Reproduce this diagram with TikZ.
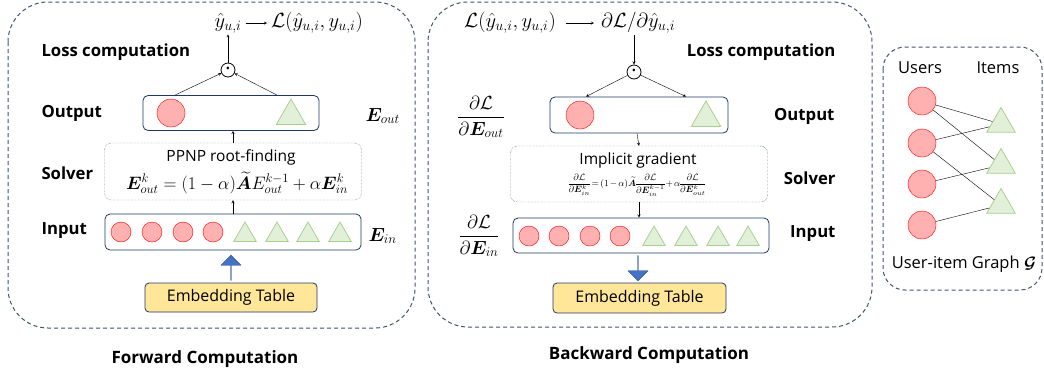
\RequirePackage{fix-cm}
\documentclass[tikz,border=0pt]{standalone}
\usepackage{amsmath,bm}
\usepackage{fontspec}
\setmainfont{Open Sans}
\usetikzlibrary{shapes.geometric,shapes.arrows}

\definecolor{navy}{HTML}{203864}
\definecolor{framegray}{HTML}{44546A}
\definecolor{userred}{HTML}{FFB0B0}
\definecolor{itemgreen}{HTML}{E2F0D9}
\definecolor{itemedge}{HTML}{A9D18E}
\definecolor{tablefill}{HTML}{FFE699}
\definecolor{arrowblue}{HTML}{4472C4}
\definecolor{arrowedge}{HTML}{2F528F}

\newcommand{\fsz}[1]{\fontsize{#1}{#1}\selectfont}

\tikzset{
  user/.style={circle, draw=red, fill=userred, inner sep=0pt, minimum size=#1},
  item/.style={regular polygon, regular polygon sides=3, draw=itemedge, fill=itemgreen,
    thick, inner sep=0pt, minimum size=#1},
  layer/.style={draw=navy, thick, rounded corners=5},
  solverbox/.style={draw=navy, densely dotted, rounded corners=7},
  tablebox/.style={draw=navy, fill=tablefill, thick, rounded corners=4, font=\fsz{16}},
  bigarrow/.style={single arrow, draw=arrowedge, fill=arrowblue, minimum height=25pt,
    minimum width=20pt, single arrow head extend=4pt, inner sep=0pt},
  odot/.style={circle, draw, thick, minimum size=14pt, inner sep=0pt, font=\fsz{11}},
  mathtext/.style={font=\fsz{20.5}, inner sep=1pt},
  rowlabel/.style={font=\bfseries\fsz{16.7}},
  title/.style={font=\bfseries\fsz{17}},
  graphtext/.style={font=\fsz{16.5}},
  panel/.style={draw=framegray, dash pattern=on 4pt off 3pt, line width=1pt},
}

\begin{document}
\begin{tikzpicture}[x=1pt, y=-1pt, >=stealth]
  \useasboundingbox (0,0) rectangle (1044,376);

  % frames
  \draw[panel, rounded corners=40] (8,2) rectangle (415,328);
  \draw[panel, rounded corners=40] (428,2) rectangle (872,327);
  \draw[panel, rounded corners=22] (883,47) rectangle (1042,290);

  % forward computation
  \node[layer, minimum width=176pt, minimum height=35pt] (fout) at (231,113) {};
  \node[solverbox, minimum width=257pt, minimum height=57pt] (fsolver) at (233,171.5) {};
  \node[layer, minimum width=256pt, minimum height=36pt] (fin) at (233,232) {};
  \node[tablebox, minimum width=172pt, minimum height=29pt] (ftable) at (231,297.5) {Embedding Table};
  \node[bigarrow, rotate=90] (fup) at (231,268) {};

  \node[user=28pt] (fcirc) at (171,113) {};
  \node[item=34pt] (ftri) at (291,116) {};
  \foreach \x [count=\i] in {121,152,183,213}
    \node[user=20pt] (fu\i) at (\x,232) {};
  \foreach \x [count=\i] in {245,277,308,340}
    \node[item=26pt] (fi\i) at (\x,235) {};

  \node[font=\fsz{15.5}] (fppnp) at (231,157) {PPNP root-finding};
  \node[font=\fsz{18}] (fformula) at (237,183)
    {$\bm{E}_{out}^{k}=(1-\alpha)\widetilde{\bm{A}}E_{out}^{k-1}+\alpha\bm{E}_{in}^{k}$};

  \node[odot] (fdot) at (228,70) {\textbullet};
  \node[mathtext] (fyhat) at (228,23) {$\hat{y}_{u,i}$};
  \node[mathtext, anchor=west] (floss) at (270,23) {$\mathcal{L}(\hat{y}_{u,i},y_{u,i})$};

  \draw[->, shorten <=3pt, shorten >=3pt] (fyhat.east) -- (floss.west);
  \draw[->] (fdot) -- (fyhat);
  \draw[->] (fout.north -| fcirc) ++(4,0) -- (fdot);
  \draw[->] (fout.north -| ftri) ++(-14,0) -- (fdot);
  \draw[->] (fsolver.north) -- (fsolver.north |- fout.south);
  \draw[->] (fin.north) -- (fin.north |- fsolver.south);

  \node[rowlabel, anchor=west] (flosslab) at (38,52) {Loss computation};
  \node[rowlabel, anchor=west] (foutlab) at (38,113) {Output};
  \node[rowlabel, anchor=west] (fsolvlab) at (38,173) {Solver};
  \node[rowlabel, anchor=west] (finlab) at (38,231) {Input};
  \node[font=\fsz{19}, anchor=west] (fEout) at (362,116) {$\bm{E}_{out}$};
  \node[font=\fsz{19}, anchor=west] (fEin) at (365,236) {$\bm{E}_{in}$};
  \node[title] (ftitle) at (205,359) {Forward Computation};

  % backward computation
  \node[layer, minimum width=178pt, minimum height=36pt] (bout) at (639,115) {};
  \node[solverbox, minimum width=257pt, minimum height=56pt] (bsolver) at (639,174) {};
  \node[layer, minimum width=256pt, minimum height=35pt] (bin) at (641,235.5) {};
  \node[tablebox, minimum width=173pt, minimum height=30pt] (btable) at (639.5,298) {Embedding Table};
  \node[bigarrow, rotate=-90] (bdown) at (638,268) {};

  \node[user=28pt] (bcirc) at (580,115) {};
  \node[item=34pt] (btri) at (706,118) {};
  \foreach \x [count=\i] in {529,559,590,620}
    \node[user=20pt] (bu\i) at (\x,236) {};
  \foreach \x [count=\i] in {654,686,718,748}
    \node[item=26pt] (bi\i) at (\x,239) {};

  \node[font=\fsz{15.5}] (bimpl) at (638,160) {Implicit gradient};
  \node[font=\fsz{9.2}] (bformula) at (637,185)
    {\nulldelimiterspace=0pt \medmuskip=2mu \thickmuskip=3mu
     $\dfrac{\partial\mathcal{L}}{\partial\bm{E}_{in}^{k}}=(1-\alpha)\widetilde{\bm{A}}\dfrac{\partial\mathcal{L}}{\partial\bm{E}_{in}^{k-1}}+\alpha\dfrac{\partial\mathcal{L}}{\partial\bm{E}_{out}^{k}}$};

  \node[odot] (bdot) at (634,72) {\textbullet};
  \node[mathtext, anchor=west] (bloss) at (463,23) {$\mathcal{L}(\hat{y}_{u,i},y_{u,i})$};
  \node[mathtext, anchor=west] (bgrad) at (600,23) {$\partial\mathcal{L}/\partial\hat{y}_{u,i}$};

  \draw[->, shorten <=9pt, shorten >=6pt] (bloss.east) -- (bgrad.west);
  \draw[->] (bdot |- bgrad.south) -- (bdot);
  \draw[->] (bdot) -- ([xshift=6pt]bout.north -| bcirc);
  \draw[->] (bdot) -- ([xshift=-20pt]bout.north -| btri);
  \draw[->] (bout.south -| bdot) ++(3,0) -- (bsolver.north);
  \draw[->] (bsolver.south) -- (bsolver.south |- bin.north);

  \node[rowlabel, anchor=east] (blosslab) at (839,52) {Loss computation};
  \node[rowlabel, anchor=east] (boutlab) at (838,116) {Output};
  \node[rowlabel, anchor=east] (bsolvlab) at (839,178) {Solver};
  \node[rowlabel, anchor=east] (binlab) at (839,234) {Input};
  \node[font=\fsz{19}] (bdEout) at (481,117) {$\dfrac{\partial\mathcal{L}}{\partial\bm{E}_{out}}$};
  \node[font=\fsz{19}] (bdEin) at (479,236) {$\dfrac{\partial\mathcal{L}}{\partial\bm{E}_{in}}$};
  \node[title] (btitle) at (649,355) {Backward Computation};

  % user-item graph
  \node[graphtext] (userslab) at (920,68) {Users};
  \node[graphtext] (itemslab) at (998,68) {Items};
  \foreach \y [count=\i] in {101,143,184,225}
    \node[user=28pt] (u\i) at (922,\y) {};
  \foreach \y [count=\i] in {124,165,205}
    \node[item=33pt] (i\i) at (1001,\y) {};
  \draw (u1) -- (i1);
  \draw (u1) -- (i2);
  \draw (u2) -- (i1);
  \draw (u2) -- (i3);
  \draw (u3) -- (i2);
  \draw (u4) -- (i3);
  \node[graphtext] (graphlab) at (964,264) {User-item Graph $\bm{\mathcal{G}}$};
\end{tikzpicture}
\end{document}
